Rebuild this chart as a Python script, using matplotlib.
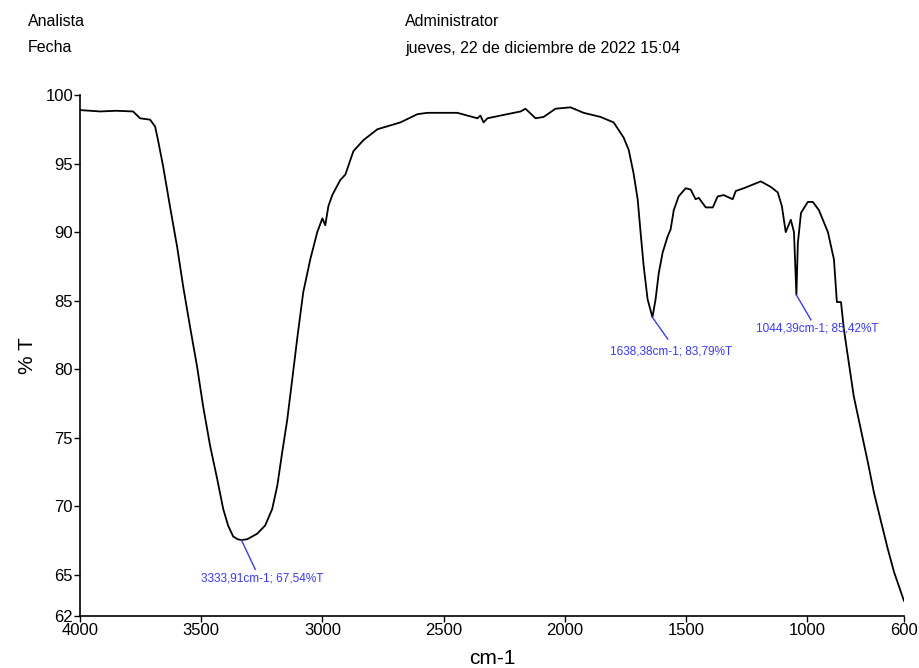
import matplotlib
matplotlib.use("Agg")
import matplotlib.pyplot as plt

plt.rcParams['font.family'] = ['Liberation Sans', 'DejaVu Sans']

wavenumber = [4000, 3917, 3850, 3781, 3752, 3711, 3690, 3678, 3657, 3628, 3599, 3574,
              3546, 3517, 3492, 3463, 3434, 3409, 3389, 3368, 3350, 3334, 3310, 3269,
              3236, 3207, 3186, 3166, 3145, 3124, 3104, 3079, 3050, 3021, 3000, 2988,
              2975, 2959, 2926, 2905, 2872, 2831, 2773, 2678, 2608, 2567, 2443, 2360,
              2348, 2335, 2319, 2265, 2182, 2162, 2120, 2087, 2038, 1976, 1922, 1852,
              1798, 1757, 1736, 1716, 1699, 1687, 1674, 1658, 1638, 1625, 1612, 1596,
              1575, 1563, 1550, 1530, 1501, 1480, 1460, 1447, 1418, 1389, 1369, 1344,
              1307, 1294, 1261, 1191, 1150, 1121, 1104, 1088, 1067, 1054, 1044, 1038,
              1025, 997, 976, 951, 914, 889, 877, 860, 848, 828, 807, 778, 749, 724,
              695, 667, 641, 600]
transmittance = [98.9, 98.8, 98.85, 98.8, 98.3, 98.2, 97.7, 96.7, 94.8, 91.8, 88.9, 86.0,
                 83.1, 80.2, 77.3, 74.4, 72.0, 69.8, 68.6, 67.8, 67.6, 67.54, 67.6, 68.0,
                 68.6, 69.8, 71.5, 73.9, 76.3, 79.3, 82.2, 85.6, 88.0, 90.0, 91.0, 90.5,
                 91.9, 92.7, 93.8, 94.2, 95.9, 96.7, 97.5, 98.0, 98.6, 98.7, 98.7, 98.3,
                 98.5, 98.0, 98.3, 98.5, 98.8, 99.0, 98.3, 98.4, 99.0, 99.1, 98.7, 98.4,
                 98.0, 96.9, 96.0, 94.3, 92.4, 90.0, 87.5, 85.1, 83.79, 85.1, 87.0, 88.5,
                 89.7, 90.2, 91.6, 92.6, 93.2, 93.1, 92.4, 92.5, 91.8, 91.8, 92.6, 92.7,
                 92.4, 93.0, 93.2, 93.7, 93.3, 92.9, 91.9, 90.0, 90.9, 90.0, 85.42, 89.2,
                 91.4, 92.2, 92.2, 91.6, 90.0, 88.0, 84.9, 84.9, 82.9, 80.5, 78.0, 75.6,
                 73.2, 71.0, 68.9, 66.9, 65.2, 63.1]

peak_x = [3333.91, 1638.38, 1044.39]
peak_y = [67.54, 83.79, 85.42]
peak_labels = ["3333,91cm-1; 67,54%T", "1638,38cm-1; 83,79%T", "1044,39cm-1; 85,42%T"]
label_end_x = [3277, 1575, 984]
label_end_y = [65.4, 82.2, 83.6]
label_text_x = [3250, 1563, 960]
label_text_y = [64.7, 81.3, 83.0]

xticks = [4000, 3500, 3000, 2500, 2000, 1500, 1000, 600]
yticks = [62, 65, 70, 75, 80, 85, 90, 95, 100]

fig = plt.figure(figsize=(9.19, 6.68), dpi=100)
ax = fig.add_axes([80/919, 1-616/668, (904-80)/919, (616-95)/668])

ax.plot(wavenumber, transmittance, color='black', lw=1.3)

blue = '#3a3aff'
for px, py, ex, ey, tx, ty, lab in zip(peak_x, peak_y, label_end_x, label_end_y,
                                        label_text_x, label_text_y, peak_labels):
    ax.plot([px, ex], [py, ey], color=blue, lw=1.0)
    ax.text(tx, ty, lab, color=blue, fontsize=8.5, ha='center', va='center')

ax.set_xlim(4000, 600)
ax.set_ylim(62, 100)
ax.set_xticks(xticks)
ax.set_yticks(yticks)
ax.set_xticklabels([str(v) for v in xticks])
ax.set_yticklabels([str(v) for v in yticks])
ax.tick_params(axis='both', labelsize=12, length=4, width=1, pad=1)
for s in ['top', 'right']:
    ax.spines[s].set_visible(False)
for s in ['left', 'bottom']:
    ax.spines[s].set_linewidth(1.2)

ax.set_ylabel('% T', fontsize=15, labelpad=6)
ax.set_xlabel('cm-1', fontsize=15, labelpad=8)

fig.text(28/919, 1-22/668, 'Analista', fontsize=11.5, va='center', ha='left')
fig.text(28/919, 1-48/668, 'Fecha', fontsize=11.5, va='center', ha='left')
fig.text(405/919, 1-22/668, 'Administrator', fontsize=11.5, va='center', ha='left')
fig.text(405/919, 1-48/668, 'jueves, 22 de diciembre de 2022 15:04', fontsize=11.5,
         va='center', ha='left')

fig.savefig('out.png', dpi=100)
